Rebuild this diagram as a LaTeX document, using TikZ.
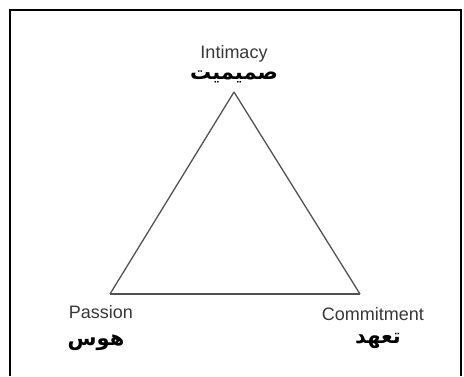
\documentclass[tikz,border=0pt]{standalone}
\usepackage{fontspec}
\setmainfont{Liberation Sans}
\newfontfamily\arabicfont[Script=Arabic]{DejaVu Sans}
\TeXXeTstate=1
\usetikzlibrary{positioning}

\begin{document}
\begin{tikzpicture}[x=1pt, y=-1pt,
  lbl/.style={inner sep=0pt, anchor=base, font=\fontsize{18}{21}\selectfont, text=black!78},
  fa/.style={inner sep=0pt, anchor=base, font=\fontsize{21}{25}\selectfont\arabicfont\bfseries, text=black},
  side/.style={line width=1.3pt, draw=black!68}
]
\useasboundingbox (0,0) rectangle (464,376);
% frame
\draw[line width=1.6pt] (10,376) -- (10,10) -- (461,10) -- (461,376);
% corners of the triangle
\coordinate (top) at (234,92);
\coordinate (left) at (110,294);
\coordinate (right) at (360,294);
\draw[side] (left) -- (top);
\draw[side] (top) -- (right);
\draw[side, line width=1.8pt] (right) -- (left);
% labels
\node[lbl] (intimacy) at (234,58) {Intimacy};
\node[fa] (intimacyfa) at (234,79) {\beginR صمیمیت\endR};
\node[lbl] (passion) at (101,318) {Passion};
\node[fa] (passionfa) at (96,345) {\beginR هوس\endR};
\node[lbl] (commitment) at (373,320) {Commitment};
\node[fa] (commitmentfa) at (378,343) {\beginR تعهد\endR};
\end{tikzpicture}
\end{document}
